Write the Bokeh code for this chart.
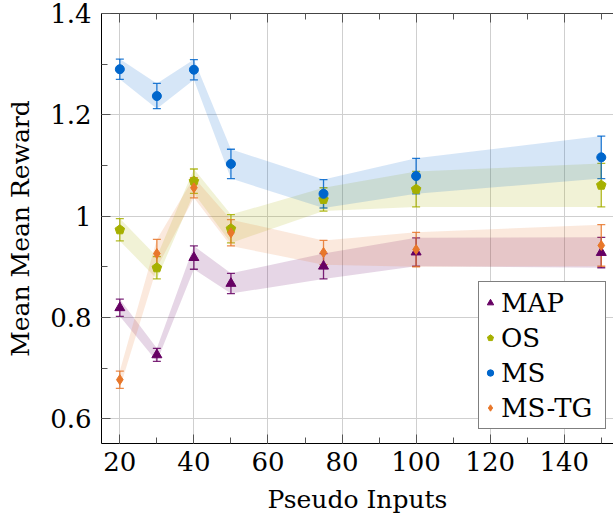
from bokeh.plotting import figure
from bokeh.models import (ColumnDataSource, Whisker, TeeHead, Legend, LegendItem,
                          FixedTicker, LinearAxis, CustomJSTickFormatter, Range1d)
from bokeh.embed import file_html
from bokeh.resources import INLINE

# ---- data ----
pseudo_inputs = [20, 30, 40, 50, 75, 100, 150]
map_mean = [0.819, 0.726, 0.918, 0.867, 0.901, 0.929, 0.928]
map_err = [0.017, 0.013, 0.023, 0.020, 0.025, 0.028, 0.030]
os_mean = [0.973, 0.898, 1.069, 0.975, 1.033, 1.053, 1.061]
os_err = [0.022, 0.022, 0.024, 0.028, 0.023, 0.035, 0.043]
ms_mean = [1.290, 1.237, 1.289, 1.103, 1.044, 1.079, 1.116]
ms_err = [0.020, 0.025, 0.020, 0.029, 0.028, 0.035, 0.042]
mstg_mean = [0.677, 0.926, 1.056, 0.967, 0.928, 0.934, 0.942]
mstg_err = [0.017, 0.028, 0.020, 0.026, 0.024, 0.034, 0.041]
series_names = ["MAP", "OS", "MS", "MS-TG"]
x_major_ticks = [20, 40, 60, 80, 100, 120, 140]
x_minor_ticks = [20, 30, 40, 50, 60, 70, 80, 90, 100, 110, 120, 130, 140, 150]
y_major_ticks = [0.6, 0.8, 1.0, 1.2, 1.4]
y_minor_ticks = [0.6, 0.7, 0.8, 0.9, 1.0, 1.1, 1.2, 1.3, 1.4]

FONT = "DejaVu Serif"
colors = {"MAP": "#660063", "OS": "#a6b000", "MS": "#0066cc", "MS-TG": "#e8772a"}

p = figure(width=613, height=529, output_backend="svg", toolbar_location=None,
           x_range=Range1d(15.05, 153.3), y_range=Range1d(0.551, 1.4),
           min_border_left=101, min_border_right=0, min_border_top=13,
           min_border_bottom=86)
p.outline_line_color = None
p.background_fill_color = "white"
p.border_fill_color = "white"

def style_axis(ax):
    ax.major_tick_in = 9
    ax.major_tick_out = 0
    ax.minor_tick_in = 6
    ax.minor_tick_out = 0
    ax.major_tick_line_color = "#555555"
    ax.minor_tick_line_color = "#555555"
    ax.axis_line_color = "#000000"
    ax.major_label_text_font = FONT
    ax.major_label_text_font_size = "26px"
    ax.major_label_text_color = "#000000"
    ax.axis_label_text_font = FONT
    ax.axis_label_text_font_size = "25px"
    ax.axis_label_text_font_style = "normal"
    ax.axis_label_text_color = "#000000"

xt = FixedTicker(ticks=x_major_ticks, minor_ticks=x_minor_ticks)
yt = FixedTicker(ticks=y_major_ticks, minor_ticks=y_minor_ticks)
fmt = CustomJSTickFormatter(code="return String(Number(tick.toFixed(2)));")
blank = CustomJSTickFormatter(code="return '';")

p.xaxis.ticker = xt
p.yaxis.ticker = yt
p.yaxis.formatter = fmt
p.xaxis.formatter = fmt
p.xaxis.axis_label = "Pseudo Inputs"
p.yaxis.axis_label = "Mean Mean Reward"
style_axis(p.xaxis[0])
style_axis(p.yaxis[0])
p.xaxis.major_label_standoff = 8
p.xaxis.axis_label_standoff = 11
p.yaxis.major_label_standoff = 10
p.yaxis.axis_label_standoff = 12

top = LinearAxis(ticker=xt, formatter=blank)
style_axis(top)
top.major_label_standoff = 0
top.axis_line_color = "#444444"
p.add_layout(top, "above")

p.xgrid.ticker = xt
p.ygrid.ticker = yt
p.grid.grid_line_color = "#cfcfcf"
p.grid.grid_line_width = 1

data = {"MAP": (map_mean, map_err), "OS": (os_mean, os_err),
        "MS": (ms_mean, ms_err), "MS-TG": (mstg_mean, mstg_err)}

# bands first
for name in series_names:
    m, e = data[name]
    lo = [a - b for a, b in zip(m, e)]
    hi = [a + b for a, b in zip(m, e)]
    p.varea(x=pseudo_inputs, y1=lo, y2=hi, fill_color=colors[name], fill_alpha=0.16)

legend_items = []
for name in series_names:
    m, e = data[name]
    lo = [a - b for a, b in zip(m, e)]
    hi = [a + b for a, b in zip(m, e)]
    src = ColumnDataSource(dict(x=pseudo_inputs, y=m, lo=lo, hi=hi))
    c = colors[name]
    w = Whisker(source=src, base="x", upper="hi", lower="lo", line_color=c,
                line_width=1.3, line_alpha=0.85,
                upper_head=TeeHead(size=8, line_color=c, line_width=1.3, line_alpha=0.85),
                lower_head=TeeHead(size=8, line_color=c, line_width=1.3, line_alpha=0.85))
    p.add_layout(w)
    if name == "MAP":
        r = p.scatter("x", "y", source=src, marker="triangle", size=10,
                      fill_color=c, line_color=c)
    elif name == "OS":
        r = p.ngon("x", "y", source=src, radius=5, radius_units="screen", n=5,
                   fill_color=c, line_color=c)
    elif name == "MS":
        r = p.scatter("x", "y", source=src, marker="circle", size=9,
                      fill_color=c, line_color=c)
    else:
        r = p.scatter("x", "y", source=src, marker="diamond", size=10,
                      fill_color=c, line_color=c)
    legend_items.append(LegendItem(label=name, renderers=[r]))

legend = Legend(items=legend_items, location=(377, 14),
                label_text_font=FONT, label_text_font_size="26px",
                label_text_color="#000000",
                glyph_width=16, glyph_height=35, label_height=35,
                label_width=101, label_standoff=3, spacing=0,
                padding=3, margin=0,
                border_line_color="#000000", border_line_width=1,
                background_fill_color="white", background_fill_alpha=1.0)
p.add_layout(legend)

open("out.html", "w").write(file_html(p, INLINE))
